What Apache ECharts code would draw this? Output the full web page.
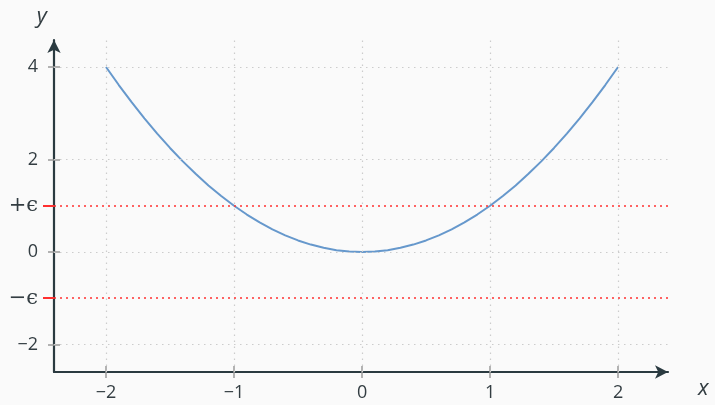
<!DOCTYPE html>
<html><head><meta charset="utf-8">
<script src="https://cdn.jsdelivr.net/npm/echarts@6/dist/echarts.min.js"></script>
<style>html,body{margin:0;padding:0;background:#fafafa}#c{width:715px;height:405px}</style>
</head><body><div id="c"></div>
<script>
// Data
const curveX = [-2,-1.9,-1.8,-1.7,-1.6,-1.5,-1.4,-1.3,-1.2,-1.1,-1,-0.9,-0.8,-0.7,-0.6,-0.5,-0.4,-0.3,-0.2,-0.1,0,
                0.1,0.2,0.3,0.4,0.5,0.6,0.7,0.8,0.9,1,1.1,1.2,1.3,1.4,1.5,1.6,1.7,1.8,1.9,2];
const curveY = [4,3.61,3.24,2.89,2.56,2.25,1.96,1.69,1.44,1.21,1,0.81,0.64,0.49,0.36,0.25,0.16,0.09,0.04,0.01,0,
                0.01,0.04,0.09,0.16,0.25,0.36,0.49,0.64,0.81,1,1.21,1.44,1.69,1.96,2.25,2.56,2.89,3.24,3.61,4];
const xTicks = [-2,-1,0,1,2];
const yTicks = [-2,0,2,4];
const epsValues = [-1,1];
const yLabelValues = [-2,-1,0,1,2,4];
const epsLabels = {'1':'{e|+ϵ}','-1':'{e|−ϵ}'};

const AX = '#2a3a40', GRID = '#cccccc', TICK = '#9a9a9a', RED = '#ff3030', TXT = '#333d42';
const FONT = '"Open Sans", sans-serif';
const numFmt = v => (v < 0 ? '−' + Math.abs(v) : String(v));
const yFmt = v => (epsLabels[String(v)] || numFmt(v));

const X_MIN = -2.40625, X_MAX = 2.39, Y_MIN = -2.595, Y_MAX = 4.584;

const chart = echarts.init(document.getElementById('c'), null, {renderer:'canvas'});
chart.setOption({
  backgroundColor: '#fafafa',
  animation: false,
  grid: {left: 54, right: 47, top: 40, bottom: 33},
  xAxis: [
    {type:'value', min:X_MIN, max:X_MAX, position:'bottom',
     axisLine:{show:true, onZero:false, symbol:['none','arrow'], symbolSize:[10,13], lineStyle:{color:AX, width:2.2}},
     axisTick:{show:true, customValues:xTicks, length:6, lineStyle:{color:TICK, width:1.5}},
     axisLabel:{show:true, customValues:xTicks, formatter:numFmt, margin:12, fontSize:18, color:TXT, fontFamily:FONT},
     splitLine:{show:false},
     name:'x', nameLocation:'end', nameGap:30,
     nameTextStyle:{fontSize:22, fontStyle:'italic', color:TXT, fontFamily:FONT, verticalAlign:'top', padding:[6,0,0,0]}},
    {type:'value', min:X_MIN, max:X_MAX, position:'bottom',
     axisLine:{show:false, onZero:false},
     axisTick:{show:true, inside:true, customValues:xTicks, length:6, lineStyle:{color:TICK, width:1.5}},
     axisLabel:{show:false}, splitLine:{show:false}}
  ],
  yAxis: [
    {type:'value', min:Y_MIN, max:Y_MAX, position:'left',
     axisLine:{show:true, onZero:false, symbol:['none','arrow'], symbolSize:[10,13], lineStyle:{color:AX, width:2.2}},
     axisTick:{show:true, customValues:yTicks, length:6, lineStyle:{color:TICK, width:1.5}},
     axisLabel:{show:true, customValues:yLabelValues, formatter:yFmt, margin:16, fontSize:18, color:TXT, fontFamily:FONT,
                rich:{e:{fontSize:21, color:TXT, fontFamily:'"DejaVu Serif", serif'}}},
     splitLine:{show:false},
     name:'y', nameLocation:'end', nameGap:12,
     nameTextStyle:{fontSize:22, fontStyle:'italic', color:TXT, fontFamily:FONT, align:'right', padding:[0,7,0,0]}},
    {type:'value', min:Y_MIN, max:Y_MAX, position:'left',
     axisLine:{show:false, onZero:false},
     axisTick:{show:true, inside:true, customValues:yTicks, length:6, lineStyle:{color:TICK, width:1.5}},
     axisLabel:{show:false}, splitLine:{show:false}},
    {type:'value', min:Y_MIN, max:Y_MAX, position:'left',
     axisLine:{show:false, onZero:false},
     axisTick:{show:true, customValues:epsValues, length:11, lineStyle:{color:RED, width:2}},
     axisLabel:{show:false}, splitLine:{show:false}}
  ],
  series: [
    {type:'line', data:[], silent:true, z:1,
     markLine:{silent:true, symbol:['none','none'], label:{show:false},
       lineStyle:{color:GRID, type:[1.5,4.5], width:1.2},
       data: xTicks.map(v=>({xAxis:v})).concat(yTicks.map(v=>({yAxis:v})))}},
    {type:'line', data:[], silent:true, z:2,
     markLine:{silent:true, symbol:['none','none'], label:{show:false},
       lineStyle:{color:RED, type:[2,4], width:1.6},
       data: epsValues.map(v=>({yAxis:v}))}},
    {type:'line', z:3, smooth:false, showSymbol:false, clip:false,
     lineStyle:{color:'#6698cc', width:2},
     data: curveX.map((x,i)=>[x, curveY[i]])}
  ]
});
</script></body></html>
